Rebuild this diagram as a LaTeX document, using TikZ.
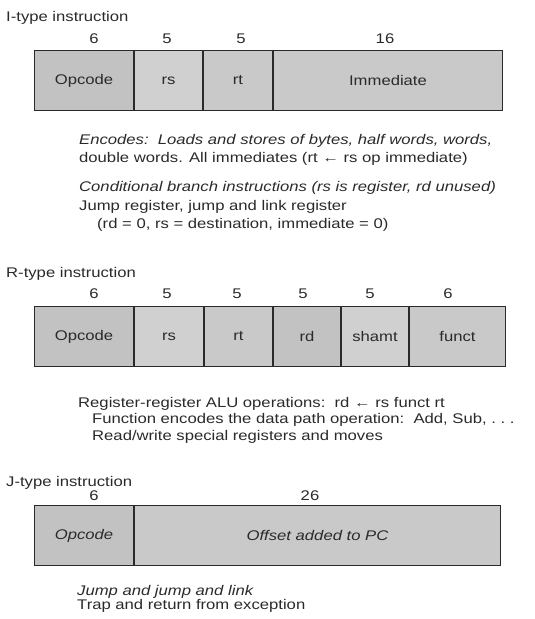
\documentclass[tikz,border=0pt]{standalone}
\usepackage{fontspec}
\setmainfont{Liberation Sans}[FakeStretch=1.19]
\usepackage{xcolor}
\usetikzlibrary{positioning}

\definecolor{inkgray}{HTML}{2A2A2A}
\definecolor{fieldA}{HTML}{C2C2C2}
\definecolor{fieldB}{HTML}{D0D0D0}
\definecolor{fieldC}{HTML}{C9C9C9}

\tikzset{
  field/.style={draw=inkgray,line width=1pt,minimum height=60pt,inner sep=0pt,
    font=\fontsize{14}{16}\selectfont,text=inkgray},
  bits/.style={font=\fontsize{14}{16}\selectfont,text=inkgray,anchor=base,inner sep=0pt},
  title/.style={font=\fontsize{14}{16}\selectfont,text=inkgray,anchor=base west,inner sep=0pt},
  note/.style={font=\fontsize{14}{16}\selectfont,text=inkgray,anchor=base west,inner sep=0pt},
}

\begin{document}
\begin{tikzpicture}[x=1pt,y=-1pt]
  \useasboundingbox (0,0) rectangle (535,619);
  % I-type
  \node[title] (ititle) at (6,21) {I-type instruction};
  \foreach \x/\n [count=\k] in {94/6,167/5,241/5,385/16}
    \node[bits] (ibits\k) at (\x,43) {\n};
  \node[field,fill=fieldA,minimum width=99pt,anchor=north west] (iop) at (34,50) {Opcode};
  \node[field,fill=fieldB,minimum width=68pt,right=0pt of iop] (irs) {rs};
  \node[field,fill=fieldC,minimum width=69pt,right=0pt of irs] (irt) {rt};
  \node[field,fill=fieldC,minimum width=229pt,right=0pt of irt] (iimm) {Immediate};
  \node[note] (inote1) at (79,144) {\itshape Encodes:\ \ Loads and stores of bytes, half words, words,};
  \node[note] (inote2) at (79,162) {double words. All immediates (rt ← rs op immediate)};
  \node[note] (inote3) at (79,191) {\itshape Conditional branch instructions (rs is register, rd unused)};
  \node[note] (inote4) at (79,210) {Jump register, jump and link register};
  \node[note] (inote5) at (97,228) {(rd = 0, rs = destination, immediate = 0)};
  % R-type
  \node[title] (rtitle) at (6,277) {R-type instruction};
  \foreach \x/\n [count=\k] in {94/6,167/5,237/5,303/5,370/5,448/6}
    \node[bits] (rbits\k) at (\x,298) {\n};
  \node[field,fill=fieldA,minimum width=99pt,anchor=north west] (rop) at (34,306) {Opcode};
  \node[field,fill=fieldB,minimum width=69pt,right=0pt of rop] (rrs) {rs};
  \node[field,fill=fieldC,minimum width=68pt,right=0pt of rrs] (rrt) {rt};
  \node[field,fill=fieldA,minimum width=67pt,right=0pt of rrt] (rrd) {rd};
  \node[field,fill=fieldB,minimum width=67pt,right=0pt of rrd] (rshamt) {shamt};
  \node[field,fill=fieldC,minimum width=96pt,right=0pt of rshamt] (rfunct) {funct};
  \node[note] (rnote1) at (78,407) {Register-register ALU operations:\ \ rd ← rs funct rt};
  \node[note] (rnote2) at (92,423) {Function encodes the data path operation:\ \ Add, Sub, .\ .\ .};
  \node[note] (rnote3) at (92,440) {Read/write special registers and moves};
  % J-type
  \node[title] (jtitle) at (6,486) {J-type instruction};
  \foreach \x/\n [count=\k] in {94/6,310/26}
    \node[bits] (jbits\k) at (\x,500) {\n};
  \node[field,fill=fieldA,minimum width=99pt,anchor=north west,font=\fontsize{14}{16}\selectfont\itshape] (jop) at (34,505) {Opcode};
  \node[field,fill=fieldC,minimum width=366pt,right=0pt of jop,font=\fontsize{14}{16}\selectfont\itshape] (joff) {Offset added to PC};
  \node[note] (jnote1) at (77,595) {\itshape Jump and jump and link};
  \node[note] (jnote2) at (77,609) {Trap and return from exception};
\end{tikzpicture}
\end{document}
